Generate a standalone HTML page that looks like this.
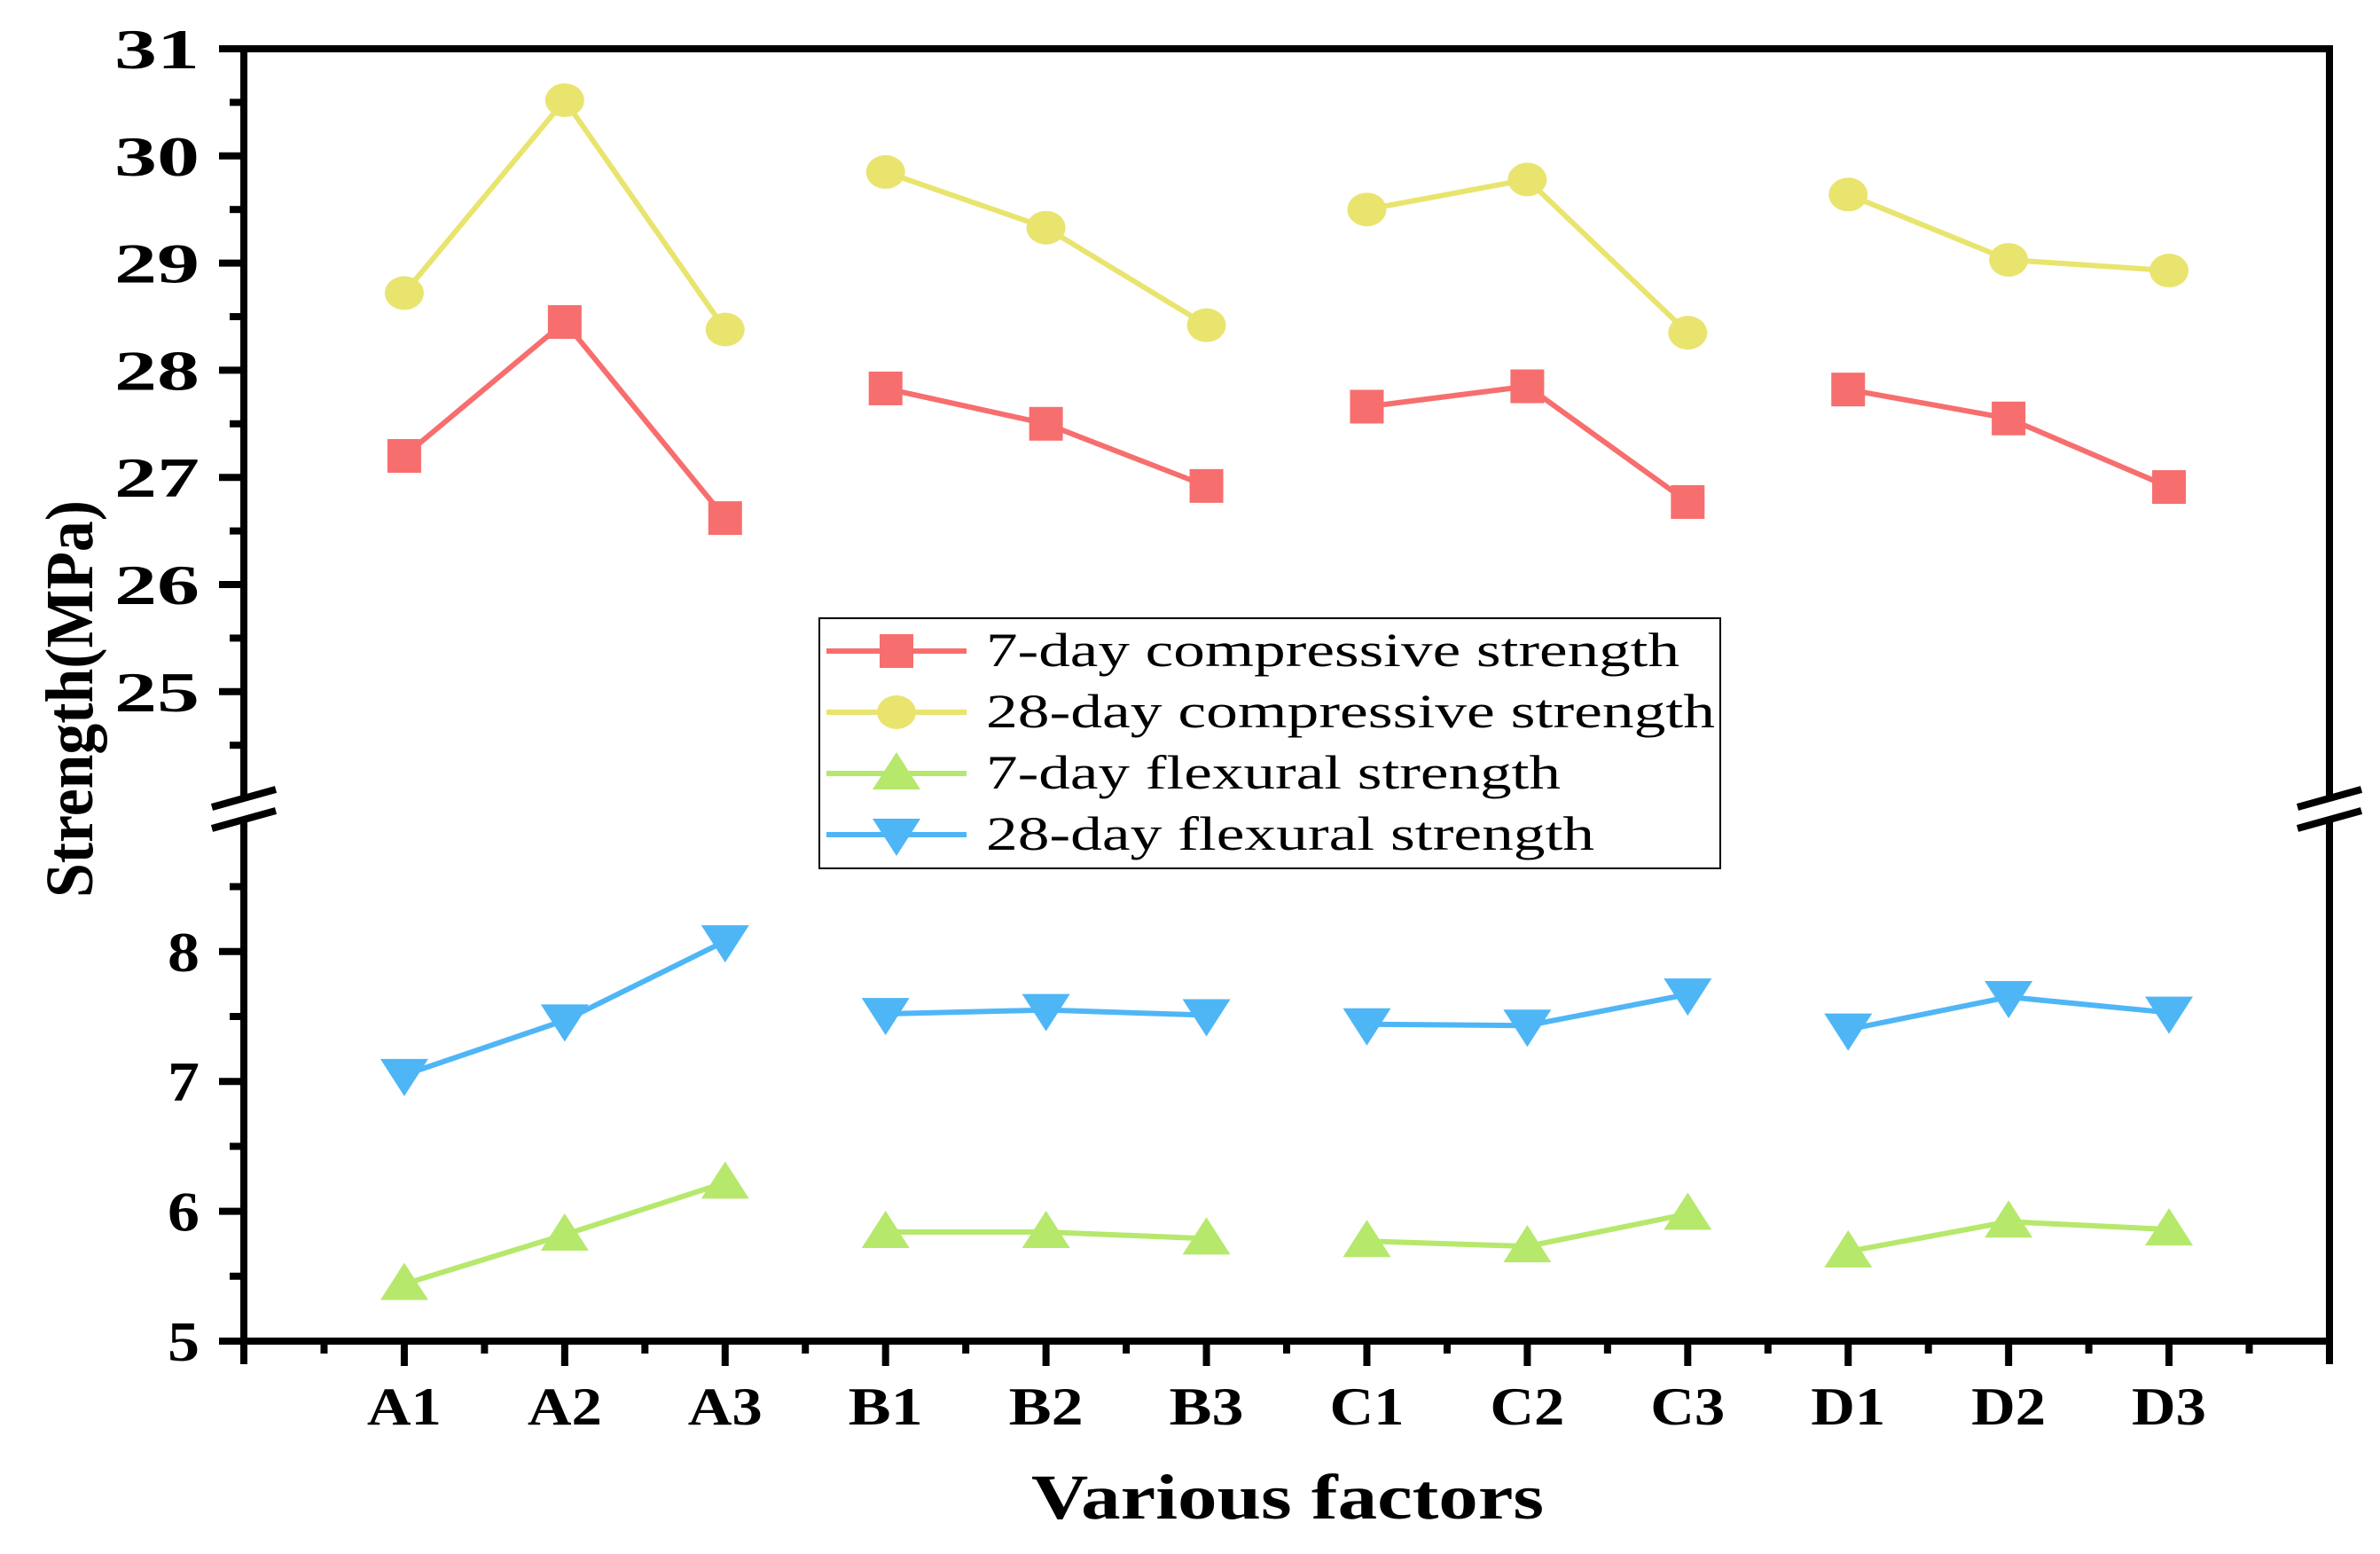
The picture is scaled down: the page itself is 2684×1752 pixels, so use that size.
<!DOCTYPE html>
<html><head><meta charset="utf-8"><style>
html,body{margin:0;padding:0;background:#fff;}
svg{display:block;}
text{font-family:"Liberation Serif",serif;}
</style></head><body>
<svg id="chart" width="2684" height="1752" viewBox="0 0 2684 1752" xmlns="http://www.w3.org/2000/svg">
<g id="plot"></g>
</svg>
<script>
const categories=["A1","A2","A3","B1","B2","B3","C1","C2","C3","D1","D2","D3"];
const comp7=[27.2,28.45,26.62,27.83,27.5,26.92,27.66,27.85,26.77,27.82,27.55,26.91];
const comp28=[28.72,30.52,28.38,29.85,29.33,28.42,29.5,29.78,28.35,29.64,29.03,28.93];
const flex7=[5.44,5.82,6.22,5.84,5.84,5.79,5.77,5.73,5.98,5.69,5.92,5.86];
const flex28=[7.05,7.47,8.08,7.52,7.55,7.51,7.44,7.43,7.67,7.4,7.65,7.53];
const upperTicks=[25,26,27,28,29,30,31];
const lowerTicks=[5,6,7,8];
const seriesNames=["7-day compressive strength","28-day compressive strength","7-day flexural strength","28-day flexural strength"];

const NS="http://www.w3.org/2000/svg";
const g=document.getElementById('plot');
function el(tag,attrs,parent){const e=document.createElementNS(NS,tag);for(const k in attrs)e.setAttribute(k,attrs[k]);(parent||g).appendChild(e);return e;}
const L=275,R=2627,T=55,B=1512,BRK=912;
const step=(R-L)/13;
function xPos(i){return L+step*(i+1);}
function yUp(v){return 55+(31-v)*120.8;}
function yLow(v){return 1512-(v-5)*146.4;}

let a;
a=el('line',{x1:L,y1:T,x2:R,y2:T,stroke:'#000','stroke-width':8});

a=el('line',{x1:L,y1:T-4,x2:L,y2:B+26,stroke:'#000','stroke-width':8});

a=el('line',{x1:R,y1:T-4,x2:R,y2:B+26,stroke:'#000','stroke-width':8});

a=el('line',{x1:L-4,y1:B,x2:R+4,y2:B,stroke:'#000','stroke-width':8});


[L,R].forEach((x,k)=>{
  const gap=el('rect',{x:x-10,y:BRK-14,width:20,height:24,fill:'#fff'});
  
  [-12,12].forEach(d=>{
    const s=el('line',{x1:x-36,y1:BRK+d+10,x2:x+36,y2:BRK+d-10,stroke:'#000','stroke-width':8});
    
  });
});

function yLabel(v,y){
  const tx=el('text',{x:L-50,y:y+22,'text-anchor':'end','font-size':64,'font-weight':'bold',textLength:String(v).length>1?96:36,lengthAdjust:'spacingAndGlyphs'});
  tx.textContent=v;
  
}
upperTicks.forEach(v=>{
  const y=yUp(v);
  const t=el('line',{x1:L-28,y1:y,x2:L,y2:y,stroke:'#000','stroke-width':8});
  
  yLabel(v,y);
});
for(let v=24.5;v<31;v+=1){
  const y=yUp(v);
  const t=el('line',{x1:L-16,y1:y,x2:L,y2:y,stroke:'#000','stroke-width':8});
  
}
lowerTicks.forEach(v=>{
  const y=yLow(v);
  const t=el('line',{x1:L-28,y1:y,x2:L,y2:y,stroke:'#000','stroke-width':8});
  
  yLabel(v,y);
});
for(let v=5.5;v<9;v+=1){
  const y=yLow(v);
  const t=el('line',{x1:L-16,y1:y,x2:L,y2:y,stroke:'#000','stroke-width':8});
  
}
for(let i=0;i<=12;i++){
  const x=xPos(i);
  if(i<12){
    const t=el('line',{x1:x,y1:B,x2:x,y2:B+28,stroke:'#000','stroke-width':8});
    
  }
  const m=el('line',{x1:x-step/2,y1:B,x2:x-step/2,y2:B+14,stroke:'#000','stroke-width':8});
  
}
categories.forEach((c,i)=>{
  const tx=el('text',{x:xPos(i),y:B+94,'text-anchor':'middle','font-size':60,'font-weight':'bold',textLength:84,lengthAdjust:'spacingAndGlyphs'});
  tx.textContent=c;
  
});

let tt=el('text',{x:1452,y:1712,'text-anchor':'middle','font-size':72,'font-weight':'bold',textLength:578,lengthAdjust:'spacingAndGlyphs'});
tt.textContent='Various factors';

tt=el('text',{x:0,y:0,'text-anchor':'middle','font-size':76,'font-weight':'bold',textLength:448,lengthAdjust:'spacingAndGlyphs',transform:'translate(104,788) rotate(-90)'});
tt.textContent='Strength(MPa)';


function marker(kind,x,y,color,parent){
  let m;
  if(kind==='sq') m=el('rect',{x:x-19,y:y-19,width:38,height:38,fill:color},parent);
  else if(kind==='ci') m=el('ellipse',{cx:x,cy:y,rx:22,ry:19,fill:color},parent);
  else if(kind==='up') m=el('polygon',{points:`${x},${y-24} ${x-27},${y+18} ${x+27},${y+18}`,fill:color},parent);
  else m=el('polygon',{points:`${x},${y+24} ${x-27},${y-18} ${x+27},${y-18}`,fill:color},parent);
  return m;
}
const series=[
 {vals:comp7,color:'#F76E6E',kind:'sq',fy:yUp,name:'series-7day-compressive'},
 {vals:comp28,color:'#E9E46E',kind:'ci',fy:yUp,name:'series-28day-compressive'},
 {vals:flex7,color:'#B6E86C',kind:'up',fy:yLow,name:'series-7day-flexural'},
 {vals:flex28,color:'#4FB6F6',kind:'dn',fy:yLow,name:'series-28day-flexural'}
];
series.forEach(s=>{
  const grp=el('g',{});
  
  for(let gi=0;gi<4;gi++){
    const pts=[];
    for(let j=0;j<3;j++){const i=gi*3+j;pts.push(xPos(i)+','+s.fy(s.vals[i]));}
    const pl=el('polyline',{points:pts.join(' '),fill:'none',stroke:s.color,'stroke-width':6},grp);
    
  }
  s.vals.forEach((v,i)=>{
    const m=marker(s.kind,xPos(i),s.fy(v),s.color,grp);
    
  });
});

const lg=el('g',{});

const lb=el('rect',{x:924,y:697,width:1016,height:282,fill:'#fff',stroke:'#000','stroke-width':2},lg);

const legLens=[782,822,648,686];
series.forEach((s,k)=>{
  const y=734+k*69;
  const ln=el('line',{x1:932,y1:y,x2:1090,y2:y,stroke:s.color,'stroke-width':6},lg);
  
  const m=marker(s.kind,1011,y,s.color,lg);
  
  const tx=el('text',{x:1112,y:y+17,'font-size':54,textLength:legLens[k],lengthAdjust:'spacingAndGlyphs'},lg);
  tx.textContent=seriesNames[k];
  
});
</script>
</body></html>
